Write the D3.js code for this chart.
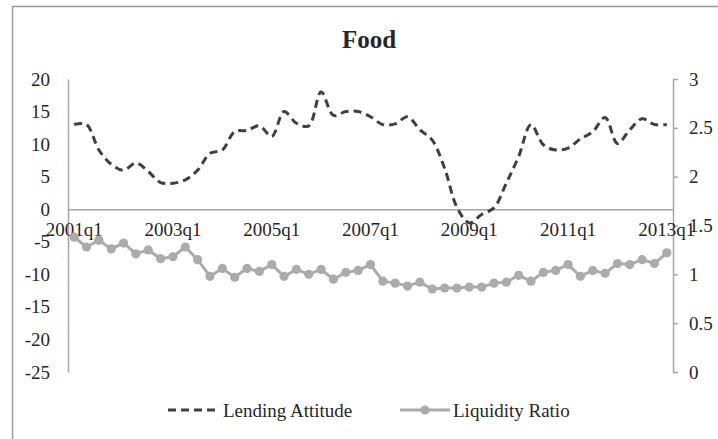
<!DOCTYPE html>
<html>
<head>
<meta charset="utf-8">
<script src="https://cdn.jsdelivr.net/npm/d3@7"></script>
<style>
  html, body { margin: 0; padding: 0; background: #fff; }
  svg { display: block; }
  text { font-family: "Liberation Serif", "Times New Roman", serif; fill: #262626; }
</style>
</head>
<body>
<svg id="chart" width="718" height="439"></svg>
<script>
const quarters = [
  "2001q1","2001q2","2001q3","2001q4","2002q1","2002q2","2002q3","2002q4",
  "2003q1","2003q2","2003q3","2003q4","2004q1","2004q2","2004q3","2004q4",
  "2005q1","2005q2","2005q3","2005q4","2006q1","2006q2","2006q3","2006q4",
  "2007q1","2007q2","2007q3","2007q4","2008q1","2008q2","2008q3","2008q4",
  "2009q1","2009q2","2009q3","2009q4","2010q1","2010q2","2010q3","2010q4",
  "2011q1","2011q2","2011q3","2011q4","2012q1","2012q2","2012q3","2012q4",
  "2013q1"
];
const lendingAttitude = [
  13.0, 13.0, 9.1, 6.9, 6.0, 7.1, 5.8, 4.1,
  4.0, 4.5, 6.0, 8.6, 9.1, 11.9, 12.1, 12.8,
  11.2, 15.0, 13.2, 12.8, 18.0, 14.4, 15.0, 15.0,
  14.2, 13.0, 13.1, 14.2, 12.2, 10.6, 6.3, 0.3,
  -2.1, -0.8, 0.2, 4.0, 8.1, 13.0, 9.9, 9.1,
  9.4, 10.8, 11.9, 14.1, 10.1, 12.2, 13.9, 13.0,
  13.0
];
const liquidityRatio = [
  1.38, 1.28, 1.35, 1.26, 1.32, 1.21, 1.25, 1.16,
  1.18, 1.28, 1.15, 0.98, 1.06, 0.97, 1.06, 1.03,
  1.10, 0.98, 1.05, 1.00, 1.05, 0.95, 1.02, 1.04,
  1.10, 0.93, 0.91, 0.88, 0.92, 0.85, 0.86, 0.86,
  0.87, 0.87, 0.91, 0.92, 0.99, 0.93, 1.02, 1.04,
  1.10, 0.98, 1.04, 1.01, 1.11, 1.10, 1.15, 1.11,
  1.22
];
const xTickLabels = ["2001q1","2003q1","2005q1","2007q1","2009q1","2011q1","2013q1"];
const leftTicks = [-25, -20, -15, -10, -5, 0, 5, 10, 15, 20];
const rightTicks = [0, 0.5, 1, 1.5, 2, 2.5, 3];
const seriesNames = ["Lending Attitude", "Liquidity Ratio"];
const chartTitle = "Food";

(function () {
const svg = d3.select("#chart");
const axisColor = "#a6a6a6";
const lendColor = "#404040";
const liqColor = "#ababab";

// outer border (only top/left visible in frame)
svg.append("rect")
  .attr("x", 12.5).attr("y", 6.5)
  .attr("width", 740).attr("height", 460)
  .attr("fill", "none").attr("stroke", "#9a9a9a").attr("stroke-width", 1.5);

const pLeft = 68, pRight = 673, pTop = 79, pBottom = 372;

const x = d3.scaleBand().domain(quarters).range([pLeft, pRight]).padding(0);
const yL = d3.scaleLinear().domain([-25, 20]).range([pBottom, pTop]);
const yR = d3.scaleLinear().domain([0, 3]).range([pBottom, pTop]);
const cx = d => x(d) + x.bandwidth() / 2;

// left axis
const gL = svg.append("g").attr("transform", `translate(${pLeft},0)`)
  .call(d3.axisLeft(yL).tickValues(leftTicks).tickSize(0).tickSizeOuter(0).tickPadding(18)
    .tickFormat(d => String(d)));
gL.select(".domain").attr("stroke", axisColor).attr("stroke-width", 1.5);
gL.selectAll("text").attr("font-size", 19).attr("fill", "#262626")
  .style("font-family", "'Liberation Serif', serif");

// right axis
const gR = svg.append("g").attr("transform", `translate(${pRight},0)`)
  .call(d3.axisRight(yR).tickValues(rightTicks).tickSize(5).tickSizeOuter(0).tickPadding(11)
    .tickFormat(d => String(d)));
gR.select(".domain").attr("stroke", axisColor).attr("stroke-width", 1.5);
gR.selectAll(".tick line").attr("stroke", axisColor).attr("stroke-width", 1.5);
gR.selectAll("text").attr("font-size", 19).attr("fill", "#262626")
  .style("font-family", "'Liberation Serif', serif");

// x axis at zero
const gX = svg.append("g").attr("transform", `translate(0,${yL(0)})`)
  .call(d3.axisBottom(x).tickValues(xTickLabels).tickSize(0).tickSizeOuter(0).tickPadding(13));
gX.select(".domain").attr("stroke", axisColor).attr("stroke-width", 1.5);
gX.selectAll("text").attr("font-size", 19).attr("fill", "#262626")
  .style("font-family", "'Liberation Serif', serif");

// liquidity ratio line + markers
const liqLine = d3.line().x((d, i) => cx(quarters[i])).y(d => yR(d));
svg.append("path").datum(liquidityRatio)
  .attr("d", liqLine).attr("fill", "none")
  .attr("stroke", liqColor).attr("stroke-width", 3);
svg.append("g").selectAll("circle").data(liquidityRatio).join("circle")
  .attr("cx", (d, i) => cx(quarters[i])).attr("cy", d => yR(d))
  .attr("r", 4.6).attr("fill", liqColor);

// lending attitude dashed line
const lendLine = d3.line().curve(d3.curveCatmullRom.alpha(0.5))
  .x((d, i) => cx(quarters[i])).y(d => yL(d));
svg.append("path").datum(lendingAttitude)
  .attr("d", lendLine).attr("fill", "none")
  .attr("stroke", lendColor).attr("stroke-width", 3)
  .attr("stroke-dasharray", "8,5");

// title
svg.append("text").attr("x", 369).attr("y", 48)
  .attr("text-anchor", "middle").attr("font-size", 25).attr("font-weight", "bold")
  .attr("fill", "#111").text(chartTitle);

// legend
const ly = 410;
svg.append("line").attr("x1", 168).attr("x2", 220).attr("y1", ly).attr("y2", ly)
  .attr("stroke", lendColor).attr("stroke-width", 3).attr("stroke-dasharray", "8,5");
svg.append("text").attr("x", 223).attr("y", ly + 7).attr("font-size", 19)
  .text(seriesNames[0]);
svg.append("line").attr("x1", 400).attr("x2", 450).attr("y1", ly).attr("y2", ly)
  .attr("stroke", liqColor).attr("stroke-width", 3);
svg.append("circle").attr("cx", 425).attr("cy", ly).attr("r", 4.6).attr("fill", liqColor);
svg.append("text").attr("x", 453).attr("y", ly + 7).attr("font-size", 19)
  .text(seriesNames[1]);
})();
</script>
</body>
</html>
